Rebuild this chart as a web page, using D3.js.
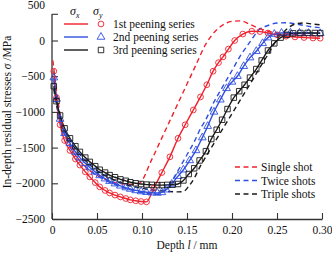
<!DOCTYPE html>
<html><head><meta charset="utf-8">
<script src="https://cdn.jsdelivr.net/npm/d3@7"></script>
<style>
html,body{margin:0;padding:0;background:#fff;}
text{font-family:"Liberation Serif","Times New Roman",serif;}
</style></head>
<body><svg id="c" width="332" height="253"></svg>
<script>
// ---- data (depth in mm, stress in MPa) ----
const xTicks = [0, 0.05, 0.10, 0.15, 0.20, 0.25, 0.30];
const yTicks = [500, 0, -500, -1000, -1500, -2000, -2500];
const seriesNames = ["1st peening series", "2nd peening series", "3rd peening series"];
const shotNames = ["Single shot", "Twice shots", "Triple shots"];
const colors = ["#f0202c", "#2f4fe0", "#1a1a1a"];

// sigma_x (solid lines) — sigma_y markers drawn at the same sampled points
const depth1 = [0.002,0.005,0.009,0.014,0.020,0.026,0.031,0.037,0.042,0.048,0.053,0.059,0.064,0.070,0.076,0.082,0.087,0.093,0.099,0.105,0.113,0.122,0.131,0.140,0.148,0.157,0.165,0.172,0.179,0.185,0.190,0.196,0.203,0.212,0.222,0.231,0.240,0.250,0.260,0.270,0.280,0.290,0.298];
const sx1 = [-430,-800,-1180,-1400,-1540,-1660,-1745,-1840,-1910,-1990,-2050,-2100,-2135,-2165,-2190,-2213,-2232,-2245,-2255,-2260,-2070,-1850,-1630,-1370,-1180,-973,-790,-620,-430,-310,-230,-120,0,90,130,125,105,80,60,50,42,35,32];
const depth2 = [0.002,0.005,0.009,0.014,0.020,0.026,0.031,0.037,0.042,0.048,0.053,0.059,0.064,0.070,0.076,0.082,0.087,0.093,0.099,0.105,0.111,0.117,0.122,0.127,0.133,0.140,0.146,0.153,0.160,0.167,0.173,0.180,0.187,0.194,0.200,0.206,0.213,0.220,0.227,0.234,0.240,0.247,0.255,0.265,0.275,0.285,0.298];
const sx2 = [-520,-820,-1100,-1300,-1440,-1560,-1640,-1720,-1780,-1840,-1890,-1935,-1970,-2005,-2035,-2060,-2080,-2100,-2115,-2125,-2132,-2135,-2128,-2090,-2010,-1900,-1810,-1680,-1540,-1360,-1200,-1000,-830,-670,-580,-500,-360,-240,-150,-40,40,90,105,108,105,103,100];
const depth3 = [0.002,0.005,0.009,0.014,0.020,0.026,0.031,0.037,0.042,0.048,0.053,0.059,0.064,0.070,0.076,0.082,0.087,0.093,0.099,0.105,0.111,0.117,0.122,0.128,0.134,0.140,0.146,0.152,0.158,0.164,0.171,0.177,0.183,0.189,0.195,0.202,0.208,0.214,0.220,0.227,0.233,0.240,0.247,0.254,0.261,0.268,0.276,0.284,0.292,0.298];
const sx3 = [-640,-850,-1050,-1230,-1370,-1480,-1560,-1640,-1700,-1760,-1810,-1850,-1885,-1915,-1945,-1965,-1985,-2000,-2010,-2018,-2022,-2025,-2025,-2022,-2020,-2010,-1960,-1870,-1790,-1680,-1550,-1380,-1250,-1110,-960,-800,-710,-620,-520,-400,-280,-140,-40,40,80,100,105,106,105,104];

// shot comparison (dashed lines)
const depthS1 = [0.001,0.005,0.010,0.015,0.020,0.030,0.040,0.050,0.060,0.070,0.080,0.090,0.097,0.110,0.120,0.130,0.140,0.150,0.160,0.170,0.180,0.190,0.200,0.210,0.220,0.230,0.240,0.250,0.260,0.270,0.280,0.290,0.298];
const shot1 = [-280,-700,-1100,-1330,-1480,-1670,-1800,-1890,-1950,-1990,-2010,-2015,-2000,-1690,-1420,-1150,-880,-610,-340,-70,110,220,268,275,225,170,130,105,90,80,70,65,62];
const depthS2 = [0.002,0.005,0.010,0.015,0.020,0.030,0.040,0.050,0.060,0.070,0.080,0.090,0.100,0.110,0.117,0.125,0.133,0.141,0.150,0.158,0.166,0.170,0.180,0.190,0.200,0.210,0.220,0.230,0.240,0.250,0.260,0.270,0.280,0.290,0.298];
const shot2 = [-560,-880,-1180,-1360,-1490,-1670,-1800,-1890,-1960,-2020,-2065,-2100,-2130,-2150,-2155,-2100,-1970,-1800,-1600,-1420,-1210,-1130,-860,-640,-420,-200,-20,150,210,245,248,235,210,190,180];
const depthS3 = [0.002,0.005,0.010,0.015,0.020,0.030,0.040,0.050,0.060,0.070,0.080,0.090,0.100,0.110,0.120,0.130,0.140,0.146,0.152,0.158,0.164,0.172,0.180,0.190,0.200,0.210,0.220,0.230,0.240,0.250,0.260,0.270,0.280,0.290,0.298];
const shot3 = [-680,-900,-1120,-1280,-1400,-1580,-1720,-1820,-1900,-1960,-2010,-2045,-2070,-2090,-2105,-2115,-2120,-2115,-2040,-1930,-1780,-1605,-1440,-1230,-1025,-815,-610,-400,-195,15,150,230,245,230,220];

// ---- chart ----
const svg = d3.select("#c");
const x = d3.scaleLinear().domain([0, 0.30]).range([52, 322]);
const y = d3.scaleLinear().domain([-2500, 500]).range([219, 4.8]);

// axes
const xAxis = d3.axisBottom(x).tickValues(xTicks).tickSizeInner(-6).tickSizeOuter(0).tickPadding(7)
  .tickFormat(d => d === 0 ? "0" : d3.format(".2f")(d));
const gx = svg.append("g").attr("transform", "translate(0,219)").call(xAxis);
const yAxis = d3.axisLeft(y).tickValues(yTicks).tickSizeInner(-6).tickSizeOuter(0).tickPadding(7)
  .tickFormat(d => d < 0 ? "\u2212" + Math.abs(d) : String(d));
const gy = svg.append("g").attr("transform", "translate(52,0)").call(yAxis);
[gx, gy].forEach(g => {
  g.selectAll("path.domain").attr("stroke", "#333").attr("stroke-width", 1.3);
  g.selectAll(".tick line").attr("stroke", "#333").attr("stroke-width", 1.1);
  g.selectAll("text").attr("fill", "#111").style("font-size", "11.5px").style("font-family", '"Liberation Serif",serif');
});
// top of the y axis line sits a little below the 500 label
gy.select("path.domain").attr("d", `M0,14V219`);
gy.selectAll(".tick").filter(d => d === 500).select("line").attr("transform", "translate(0,9)");

// lines
const line = d3.line().x(d => x(d[0])).y(d => y(d[1])).curve(d3.curveMonotoneX);
const solid = [[depth1, sx1], [depth2, sx2], [depth3, sx3]];
const dashed = [[depthS1, shot1], [depthS2, shot2], [depthS3, shot3]];

dashed.forEach(([ds, vs], i) => {
  svg.append("path").datum(ds.map((d, k) => [d, vs[k]]))
    .attr("d", line).attr("fill", "none").attr("stroke", colors[i])
    .attr("stroke-width", 1.4).attr("stroke-dasharray", "5,3.5");
});
solid.forEach(([ds, vs], i) => {
  svg.append("path").datum(ds.map((d, k) => [d, vs[k]]))
    .attr("d", line).attr("fill", "none").attr("stroke", colors[i])
    .attr("stroke-width", 1.4);
});

// markers
const symTypes = [d3.symbolCircle, d3.symbolTriangle, d3.symbolSquare];
const symSizes = [26, 26, 30];
function marker(sel, i) {
  sel.append("path").attr("d", d3.symbol().type(symTypes[i]).size(symSizes[i]))
    .attr("fill", "none").attr("stroke", colors[i]).attr("stroke-width", 0.9);
}
solid.forEach(([ds, vs], i) => {
  ds.forEach((d, k) => {
    const g = svg.append("g").attr("transform", `translate(${x(d)},${y(vs[k])})`);
    marker(g, i);
  });
});

// top legend
const lg = svg.append("g");
const hdr = (tx, sub) => {
  const t = lg.append("text").attr("x", tx).attr("y", 15).style("font-size", "12px").attr("fill", "#111");
  t.append("tspan").style("font-style", "italic").text("σ");
  t.append("tspan").style("font-style", "italic").style("font-size", "8px").attr("dy", 3).text(sub);
};
hdr(70, "x"); hdr(93, "y");
seriesNames.forEach((n, i) => {
  const yy = 24 + i * 13;
  lg.append("line").attr("x1", 64).attr("x2", 88).attr("y1", yy).attr("y2", yy)
    .attr("stroke", colors[i]).attr("stroke-width", 1.4);
  const g = lg.append("g").attr("transform", `translate(101,${yy})`);
  marker(g, i);
  lg.append("text").attr("x", 113).attr("y", yy + 4).style("font-size", "11.5px").attr("fill", "#111").text(n);
});

// bottom legend
shotNames.forEach((n, i) => {
  const yy = 167 + i * 13.5;
  lg.append("line").attr("x1", 235).attr("x2", 258).attr("y1", yy).attr("y2", yy)
    .attr("stroke", colors[i]).attr("stroke-width", 1.4).attr("stroke-dasharray", "5,3.5");
  lg.append("text").attr("x", 261).attr("y", yy + 4).style("font-size", "11.5px").attr("fill", "#111").text(n);
});

// axis titles
const xt = svg.append("text").attr("x", 187).attr("y", 249).attr("text-anchor", "middle").style("font-size", "11.5px").attr("fill", "#111");
xt.append("tspan").text("Depth ");
xt.append("tspan").style("font-style", "italic").text("l");
xt.append("tspan").text(" / mm");
const yt = svg.append("text").attr("transform", "translate(11,112) rotate(-90)").attr("text-anchor", "middle").style("font-size", "11.5px").attr("fill", "#111");
yt.append("tspan").text("In-depth residual stresses ");
yt.append("tspan").style("font-style", "italic").text("σ");
yt.append("tspan").text(" /MPa");
</script></body></html>
